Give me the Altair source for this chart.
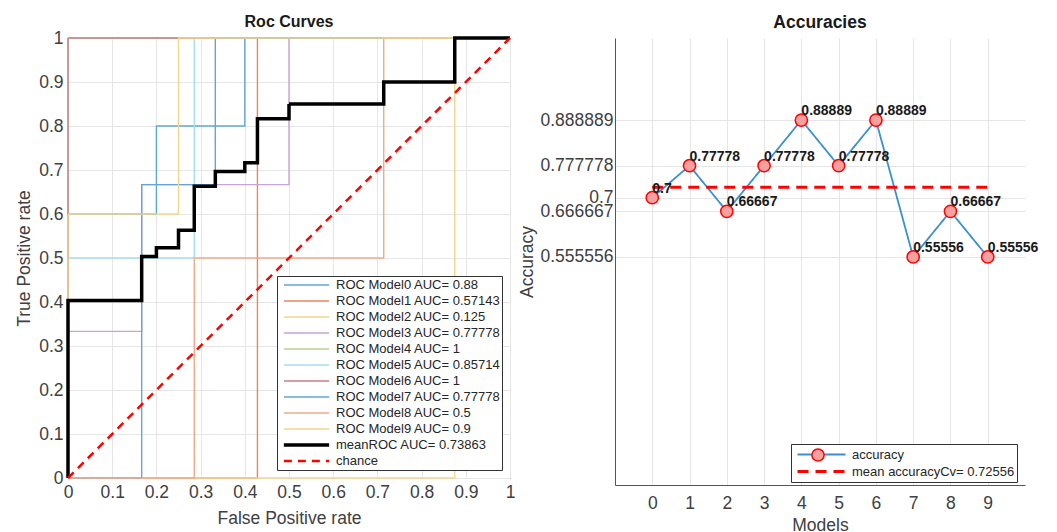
import altair as alt
import pandas as pd

FONT = "Liberation Sans"

# ---------------- ROC data ----------------
series_names = [
    "ROC Model0 AUC= 0.88", "ROC Model1 AUC= 0.57143", "ROC Model2 AUC= 0.125",
    "ROC Model3 AUC= 0.77778", "ROC Model4 AUC= 1", "ROC Model5 AUC= 0.85714",
    "ROC Model6 AUC= 1", "ROC Model7 AUC= 0.77778", "ROC Model8 AUC= 0.5",
    "ROC Model9 AUC= 0.9", "meanROC AUC= 0.73863", "chance",
]
series_colors = ["#62A6D8", "#E8875D", "#F4D58C", "#C9A3D6", "#B5D490", "#A6DEF6",
                 "#CC7E8D", "#62A6D8", "#EFAA8C", "#F4D58C", "#000000", "#FF0000"]
series_dash = [[1, 0]] * 11 + [[8, 6]]
series_width = [1.4] * 10 + [3.5, 2.5]

m0_fpr = [0, 0, 0.2, 0.2, 0.4, 0.4, 1]
m0_tpr = [0, 0.6, 0.6, 0.8, 0.8, 1, 1]
m1_fpr = [0, 0.4286, 0.4286, 1]
m1_tpr = [0, 0, 1, 1]
m2_fpr = [0, 0.875, 0.875, 1]
m2_tpr = [0, 0, 1, 1]
m3_fpr = [0, 0, 0.1667, 0.1667, 0.5, 0.5, 1]
m3_tpr = [0, 0.3333, 0.3333, 0.6667, 0.6667, 1, 1]
m4_fpr = [0, 0, 1]
m4_tpr = [0, 1, 1]
m5_fpr = [0, 0, 0.2857, 0.2857, 1]
m5_tpr = [0, 0.5, 0.5, 1, 1]
m6_fpr = [0, 0, 1]
m6_tpr = [0, 1, 1]
m7_fpr = [0, 0.1667, 0.1667, 0.3333, 0.3333, 1]
m7_tpr = [0, 0, 0.6667, 0.6667, 1, 1]
m8_fpr = [0, 0.2857, 0.2857, 0.7143, 0.7143, 1]
m8_tpr = [0, 0, 0.5, 0.5, 1, 1]
m9_fpr = [0, 0, 0.25, 0.25, 1]
m9_tpr = [0, 0.6, 0.6, 1, 1]

mean_fpr = [0, 0, 0.1667, 0.1667, 0.2, 0.2, 0.25, 0.25, 0.2857, 0.2857, 0.3333, 0.3333,
            0.4, 0.4, 0.4286, 0.4286, 0.5, 0.5, 0.7143, 0.7143, 0.875, 0.875, 1]
mean_tpr = [0, 0.4033, 0.4033, 0.5033, 0.5033, 0.5233, 0.5233, 0.5633, 0.5633, 0.6633,
            0.6633, 0.6967, 0.6967, 0.7167, 0.7167, 0.8167, 0.8167, 0.85, 0.85, 0.9, 0.9, 1, 1]
chance_fpr = [0, 1]
chance_tpr = [0, 1]

roc_ticks = [0, 0.1, 0.2, 0.3, 0.4, 0.5, 0.6, 0.7, 0.8, 0.9, 1]

# ---------------- Accuracy data ----------------
models = [0, 1, 2, 3, 4, 5, 6, 7, 8, 9]
accuracy = [0.7, 0.77778, 0.66667, 0.77778, 0.88889, 0.77778, 0.88889, 0.55556, 0.66667, 0.55556]
acc_labels = ["0.7", "0.77778", "0.66667", "0.77778", "0.88889", "0.77778", "0.88889",
              "0.55556", "0.66667", "0.55556"]
mean_acc = 0.72556
acc_ticks = [0.555556, 0.666667, 0.7, 0.777778, 0.888889]
acc_series = ["accuracy", "mean accuracyCv= 0.72556"]


def rows_for(name, xs, ys):
    return [{"series": name, "fpr": a, "tpr": b, "idx": i} for i, (a, b) in enumerate(zip(xs, ys))]


model_curves = [(m0_fpr, m0_tpr), (m1_fpr, m1_tpr), (m2_fpr, m2_tpr), (m3_fpr, m3_tpr),
                (m4_fpr, m4_tpr), (m5_fpr, m5_tpr), (m6_fpr, m6_tpr), (m7_fpr, m7_tpr),
                (m8_fpr, m8_tpr), (m9_fpr, m9_tpr)]
model_rows = []
for name, (fx, fy) in zip(series_names[:10], model_curves):
    model_rows += rows_for(name, fx, fy)
models_df = pd.DataFrame(model_rows)
mean_df = pd.DataFrame(rows_for(series_names[10], mean_fpr, mean_tpr))
chance_df = pd.DataFrame(rows_for(series_names[11], chance_fpr, chance_tpr))

roc_legend = alt.Legend(
    title=None, orient="none", legendX=209, legendY=238,
    fillColor="white", strokeColor="#333333", padding=1, cornerRadius=0,
    labelFont=FONT, labelFontSize=13, labelColor="#262626", labelLimit=300,
    symbolType="stroke", symbolSize=2050, clipHeight=15.9, rowPadding=0,
    symbolOffset=4, labelOffset=5, symbolOpacity=1,
)

x_roc = alt.X("fpr:Q", scale=alt.Scale(domain=[0, 1], nice=False),
              axis=alt.Axis(values=roc_ticks, format="~g", title="False Positive rate",
                            grid=True, labelFlush=False, domain=False, ticks=False,
                            labelPadding=5, titlePadding=9))
y_roc = alt.Y("tpr:Q", scale=alt.Scale(domain=[0, 1], nice=False),
              axis=alt.Axis(values=roc_ticks, format="~g", title="True Positive rate",
                            grid=True, labelFlush=False, domain=False, ticks=False,
                            labelPadding=5, titlePadding=5))
enc_common = dict(
    x=x_roc, y=y_roc,
    order=alt.Order("idx:Q"),
    color=alt.Color("series:N", scale=alt.Scale(domain=series_names, range=series_colors),
                    legend=roc_legend),
    strokeDash=alt.StrokeDash("series:N", scale=alt.Scale(domain=series_names, range=series_dash),
                              legend=roc_legend),
    strokeWidth=alt.StrokeWidth("series:N", scale=alt.Scale(type="ordinal", domain=series_names,
                                                            range=series_width),
                                legend=roc_legend),
)

roc = alt.layer(
    alt.Chart(models_df).mark_line().encode(**enc_common),
    alt.Chart(mean_df).mark_line().encode(**enc_common),
    alt.Chart(chance_df).mark_line().encode(**enc_common),
).properties(
    width=442, height=440,
    title=alt.TitleParams("Roc Curves", fontSize=16, fontWeight="bold", font=FONT,
                          color="#1a1a1a", offset=-1),
    view=alt.ViewBackground(stroke="#333333", strokeWidth=1),
)

# ---------------- Accuracy chart ----------------
acc_df = pd.DataFrame({"model": models, "acc": accuracy, "label": acc_labels,
                       "series": [acc_series[0]] * len(models)})
mean_line_df = pd.DataFrame({"model": [models[0], models[-1]], "acc": [mean_acc, mean_acc],
                             "series": [acc_series[1]] * 2})

x_acc = alt.X("model:Q", scale=alt.Scale(domain=[-1, 10], nice=False),
              axis=alt.Axis(values=models, format="d", title="Models", grid=True,
                            labelFlush=False, domain=True, domainColor="#555555",
                            ticks=False, labelPadding=9, titlePadding=5))
y_acc = alt.Y("acc:Q", scale=alt.Scale(domain=[0, 1.088889], nice=False, zero=False),
              axis=alt.Axis(values=acc_ticks, format=".6~f", title="Accuracy", grid=True,
                            labelFlush=False, labelOverlap=False, domain=True,
                            domainColor="#555555", ticks=False, labelPadding=2,
                            titlePadding=4))

acc_legend = alt.Legend(
    title=None, orient="none", legendX=176, legendY=406,
    fillColor="white", strokeColor="#333333", padding=2, cornerRadius=0,
    labelFont=FONT, labelFontSize=13, labelColor="#262626", labelLimit=300,
    symbolType="stroke", symbolSize=2304, clipHeight=17, rowPadding=0,
    symbolOffset=3, labelOffset=5,
)
dot_legend = alt.Legend(
    title=None, orient="none", legendX=196, legendY=409,
    padding=0, labelExpr="''", symbolType="circle", symbolSize=150,
    symbolStrokeColor="#FF0000", symbolStrokeWidth=1.5, symbolFillColor="#F7A0A0",
    clipHeight=16, labelLimit=1,
)

acc_color = alt.Color("series:N", scale=alt.Scale(domain=acc_series, range=["#3A8FD0", "#FF0000"]),
                      legend=acc_legend)
acc_dash = alt.StrokeDash("series:N", scale=alt.Scale(domain=acc_series, range=[[1, 0], [11, 7]]),
                          legend=acc_legend)
acc_width = alt.StrokeWidth("series:N", scale=alt.Scale(type="ordinal", domain=acc_series,
                                                        range=[1.8, 3]),
                            legend=acc_legend)

acc_line = alt.Chart(acc_df).mark_line().encode(
    x=x_acc, y=y_acc, color=acc_color, strokeDash=acc_dash, strokeWidth=acc_width)
acc_pts = alt.Chart(acc_df).mark_point(shape="circle", size=150, stroke="#FF0000",
                                        strokeWidth=1.5, opacity=1, fillOpacity=1).encode(
    x=x_acc, y=y_acc,
    fill=alt.Fill("dot:N", scale=alt.Scale(domain=["accuracy"], range=["#F7A0A0"]),
                  legend=dot_legend),
).transform_calculate(dot="'accuracy'")
mean_line = alt.Chart(mean_line_df).mark_line().encode(
    x=x_acc, y=y_acc, color=acc_color, strokeDash=acc_dash, strokeWidth=acc_width)
acc_text = alt.Chart(acc_df).mark_text(align="left", baseline="middle", dy=-9, dx=0,
                                       font=FONT, fontSize=14, fontWeight="bold",
                                       color="#1a1a1a").encode(
    x=x_acc, y=y_acc, text="label:N")

acc_chart = alt.layer(acc_line, acc_pts, mean_line, acc_text).properties(
    width=410, height=447,
    title=alt.TitleParams("Accuracies", fontSize=17.5, fontWeight="bold", font=FONT,
                          color="#1a1a1a", offset=7),
    view=alt.ViewBackground(stroke=None),
)

chart = alt.hconcat(roc, acc_chart, spacing=0).configure(
    font=FONT,
    padding={"left": 15, "top": 13, "right": 5, "bottom": 0},
    background="white",
).configure_axis(
    labelFont=FONT, labelFontSize=17.5, labelColor="#404040",
    titleFont=FONT, titleFontSize=17.5, titleFontWeight="normal", titleColor="#404040",
    gridColor="#E6E6E6", gridWidth=1,
).resolve_scale(color="independent", strokeDash="independent", strokeWidth="independent",
                fill="independent").resolve_legend(
    color="independent", strokeDash="independent", strokeWidth="independent",
    fill="independent")

chart.save("out.html", embed_options={"renderer": "svg", "actions": False})
